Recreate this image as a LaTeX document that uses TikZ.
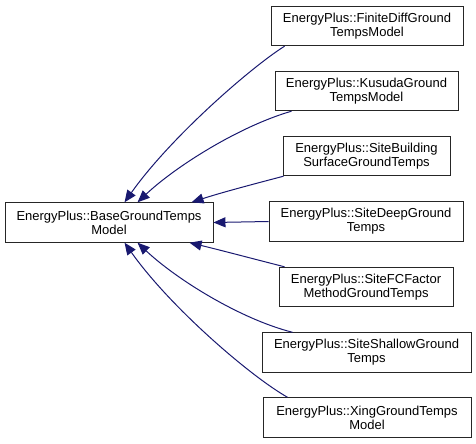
\documentclass[tikz,border=0pt]{standalone}
\usepackage{fontspec}
\setmainfont{Liberation Sans}
\usetikzlibrary{arrows.meta}
\definecolor{edgeblue}{RGB}{25,25,112}
\begin{document}
\begin{tikzpicture}[x=1bp,y=-1bp,
  cls/.style={draw=black!85, line width=0.9bp, fill=white, align=center,
    inner sep=0pt, minimum height=39.5bp,
    font=\fontsize{13bp}{14bp}\selectfont},
  edge/.style={draw=edgeblue, line width=1bp,
    -{Triangle[length=12bp,width=10bp]}},
]
\useasboundingbox (0,0) rectangle (476,444);

\node[cls, minimum width=208bp] (base) at (109,222.5) {EnergyPlus::BaseGroundTemps\\Model};

\node[cls, minimum width=192bp] (fd) at (367,26) {EnergyPlus::FiniteDiffGround\\TempsModel};
\node[cls, minimum width=183bp] (ku) at (366.5,91) {EnergyPlus::KusudaGround\\TempsModel};
\node[cls, minimum width=167bp] (sb) at (366.5,156) {EnergyPlus::SiteBuilding\\SurfaceGroundTemps};
\node[cls, minimum width=194bp] (sd) at (366,221.5) {EnergyPlus::SiteDeepGround\\Temps};
\node[cls, minimum width=174bp] (fc) at (366,287) {EnergyPlus::SiteFCFactor\\MethodGroundTemps};
\node[cls, minimum width=209bp] (ss) at (366.5,352.5) {EnergyPlus::SiteShallowGround\\Temps};
\node[cls, minimum width=208bp] (xg) at (367,417.5) {EnergyPlus::XingGroundTemps\\Model};

\draw[edge] ([xshift=14bp]fd.south west) .. controls (250,68) and (170,138) .. ([xshift=120bp]base.north west);
\draw[edge] ([xshift=17bp]ku.south west) .. controls (240,126) and (176,166) .. ([xshift=133bp]base.north west);
\draw[edge] ([xshift=1bp]sb.south west) .. controls (250,185) and (220,193) .. ([xshift=187bp]base.north west);
\draw[edge] (sd.west) -- (base.east);
\draw[edge] ([xshift=6bp]fc.north west) .. controls (250,258) and (220,250) .. ([xshift=185bp]base.south west);
\draw[edge] ([xshift=31bp]ss.north west) .. controls (240,319) and (176,279) .. ([xshift=133bp]base.south west);
\draw[edge] ([xshift=25bp]xg.north west) .. controls (250,376) and (170,307) .. ([xshift=120bp]base.south west);
\end{tikzpicture}
\end{document}
